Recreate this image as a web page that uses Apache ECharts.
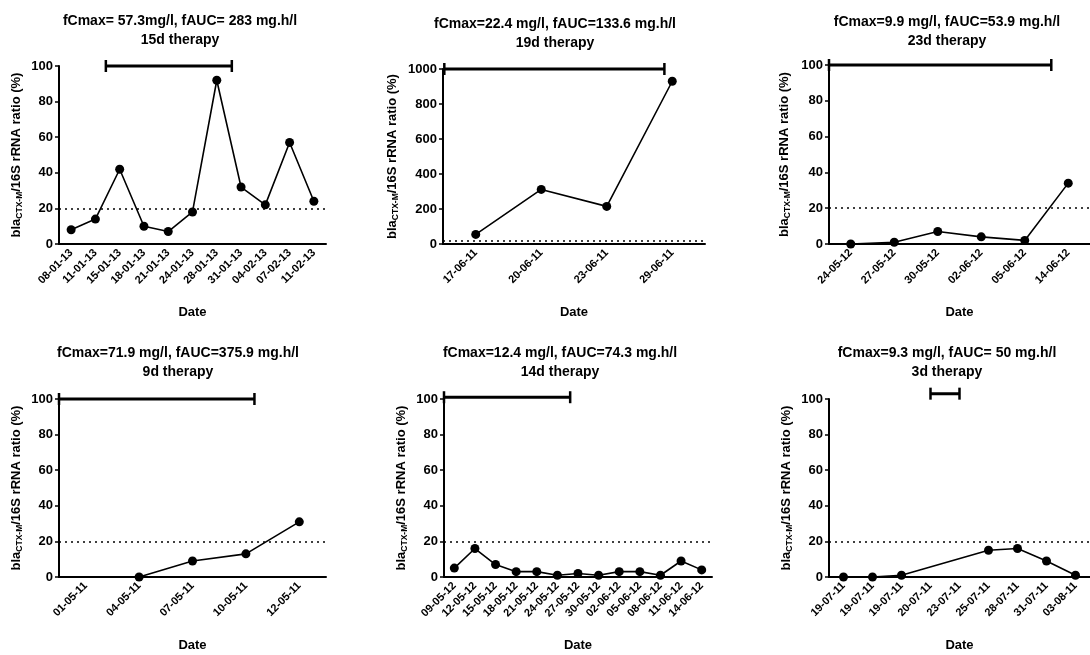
<!DOCTYPE html>
<html>
<head>
<meta charset="utf-8">
<script src="https://cdn.jsdelivr.net/npm/echarts@6/dist/echarts.min.js"></script>
<style>
  html, body { margin: 0; padding: 0; background: #fff; }
  #chart { width: 1090px; height: 655px; }
</style>
</head>
<body>
<div id="chart"></div>
<script>
var FONT = 'Arial, "Liberation Sans", sans-serif';

// panel titles
var titles = [
	'fCmax= 57.3mg/l, fAUC= 283 mg.h/l\n15d therapy',
	'fCmax=22.4 mg/l, fAUC=133.6 mg.h/l\n19d therapy',
	'fCmax=9.9 mg/l, fAUC=53.9 mg.h/l\n23d therapy',
	'fCmax=71.9 mg/l, fAUC=375.9 mg.h/l\n9d therapy',
	'fCmax=12.4 mg/l, fAUC=74.3 mg.h/l\n14d therapy',
	'fCmax=9.3 mg/l, fAUC= 50 mg.h/l\n3d therapy'
];

// sampling dates and ratios (%)
var dates1 = ['08-01-13','11-01-13','15-01-13','18-01-13','21-01-13','24-01-13','28-01-13','31-01-13','04-02-13','07-02-13','11-02-13'];
var ratio1 = [8, 14, 42, 10, 7, 18, 92, 32, 22, 57, 24];

var dates2 = ['17-06-11','20-06-11','23-06-11','29-06-11'];
var ratio2 = [55, 312, 215, 930];

var dates3 = ['24-05-12','27-05-12','30-05-12','02-06-12','05-06-12','14-06-12'];
var ratio3 = [0, 1, 7, 4, 2, 34];

var dates4 = ['01-05-11','04-05-11','07-05-11','10-05-11','12-05-11'];
var ratio4 = [null, 0, 9, 13, 31];

var dates5 = ['09-05-12','12-05-12','15-05-12','18-05-12','21-05-12','24-05-12','27-05-12','30-05-12','02-06-12','05-06-12','08-06-12','11-06-12','14-06-12'];
var ratio5 = [5, 16, 7, 3, 3, 1, 2, 1, 3, 3, 1, 9, 4];

var dates6 = ['19-07-11','19-07-11','19-07-11','20-07-11','23-07-11','25-07-11','28-07-11','31-07-11','03-08-11'];
var ratio6 = [0, 0, 1, null, null, 15, 16, 9, 1];

// therapy period: start / end (in sample index units) and level
var therapy1 = [1.43, 6.62, 100];
var therapy2 = [-0.48, 2.88, 1000];
var therapy3 = [-0.5, 4.61, 100];
var therapy4 = [-0.5, 3.16, 100];
var therapy5 = [-0.5, 5.62, 101];
var therapy6 = [3, 4, 103];

// y scales
var yMax = [100, 1000, 100, 100, 100, 100];
var yStep = [20, 200, 20, 20, 20, 20];
var threshold = 20;

// layout: grid left, top, width, height, title center x, title top, name gap
var layout = [
	[59, 66, 267, 178, 180, 12, 35],
	[443, 69, 262, 175, 555, 15, 43],
	[829, 65, 269, 179, 947, 13, 37],
	[59, 399, 267, 178, 178, 344, 35],
	[444, 399, 268, 178, 560, 344, 35],
	[829, 399, 267, 178, 947, 344, 35]
];

var allDates = [dates1, dates2, dates3, dates4, dates5, dates6];
var allRatio = [ratio1, ratio2, ratio3, ratio4, ratio5, ratio6];
var allTherapy = [therapy1, therapy2, therapy3, therapy4, therapy5, therapy6];

var option = {
	animation: false,
	backgroundColor: '#fff',
	title: [], grid: [], xAxis: [], yAxis: [], series: []
};

for (var i = 0; i < 6; i++) {
	var L = layout[i];

	option.title.push({
		text: titles[i],
		left: L[4], top: L[5], textAlign: 'center', padding: 0,
		textStyle: { fontFamily: FONT, fontSize: 14, fontWeight: 'bold', color: '#000', lineHeight: 18.5 }
	});

	option.grid.push({ left: L[0], top: L[1], width: L[2], height: L[3] });

	option.xAxis.push({
		type: 'category', gridIndex: i, data: allDates[i], boundaryGap: true,
		axisLine: { onZero: false, lineStyle: { color: '#000', width: 2 } },
		axisTick: { alignWithLabel: true, length: 4, lineStyle: { color: '#000', width: 1.5 } },
		axisLabel: { interval: 0, rotate: 45, margin: 7, color: '#000', fontFamily: FONT, fontSize: 11, fontWeight: 'bold' },
		splitLine: { show: false },
		name: 'Date', nameLocation: 'middle', nameGap: 62,
		nameTextStyle: { color: '#000', fontFamily: FONT, fontSize: 13, fontWeight: 'bold' }
	});

	option.yAxis.push({
		type: 'value', gridIndex: i, min: 0, max: yMax[i], interval: yStep[i],
		axisLine: { show: true, onZero: false, lineStyle: { color: '#000', width: 2 } },
		axisTick: { show: true, length: 4, lineStyle: { color: '#000', width: 1.5 } },
		axisLabel: { margin: 6, color: '#000', fontFamily: FONT, fontSize: 13, fontWeight: 'bold',
			formatter: function (v) { return String(v); } },
		splitLine: { show: false },
		name: '{m|bla}{s|CTX-M}{m|/16S rRNA ratio (%)}',
		nameLocation: 'middle', nameGap: L[6],
		nameTextStyle: {
			rich: {
				m: { color: '#000', fontFamily: FONT, fontSize: 13, fontWeight: 'bold', lineHeight: 15 },
				s: { color: '#000', fontFamily: FONT, fontSize: 8.5, fontWeight: 'bold', verticalAlign: 'bottom', padding: [6, 0, 0, 0] }
			}
		}
	});

	option.series.push({
		type: 'line', xAxisIndex: i, yAxisIndex: i,
		data: allRatio[i], connectNulls: true,
		symbol: 'circle', symbolSize: 9,
		itemStyle: { color: '#000' },
		lineStyle: { color: '#000', width: 1.6 },
		markLine: {
			silent: true, symbol: 'none', label: { show: false },
			lineStyle: { color: '#000', width: 1.5, type: [2, 4] },
			data: [{ yAxis: threshold }]
		}
	});
}

// hidden value axes for the therapy bars, aligned to category centres
for (var j = 0; j < 6; j++) {
	var m = allDates[j].length;
	option.xAxis.push({ type: 'value', gridIndex: j, min: -0.5, max: m - 0.5, show: false });
	var t = allTherapy[j];
	option.series.push({
		type: 'line', xAxisIndex: 6 + j, yAxisIndex: j, clip: false, z: 5,
		data: [[t[0], t[2]], [t[1], t[2]]],
		symbol: 'rect', symbolSize: [2.5, 12],
		itemStyle: { color: '#000' },
		lineStyle: { color: '#000', width: 3 }
	});
}

var myChart = echarts.init(document.getElementById('chart'), null, { renderer: 'canvas' });
myChart.setOption(option);
</script>
</body>
</html>
